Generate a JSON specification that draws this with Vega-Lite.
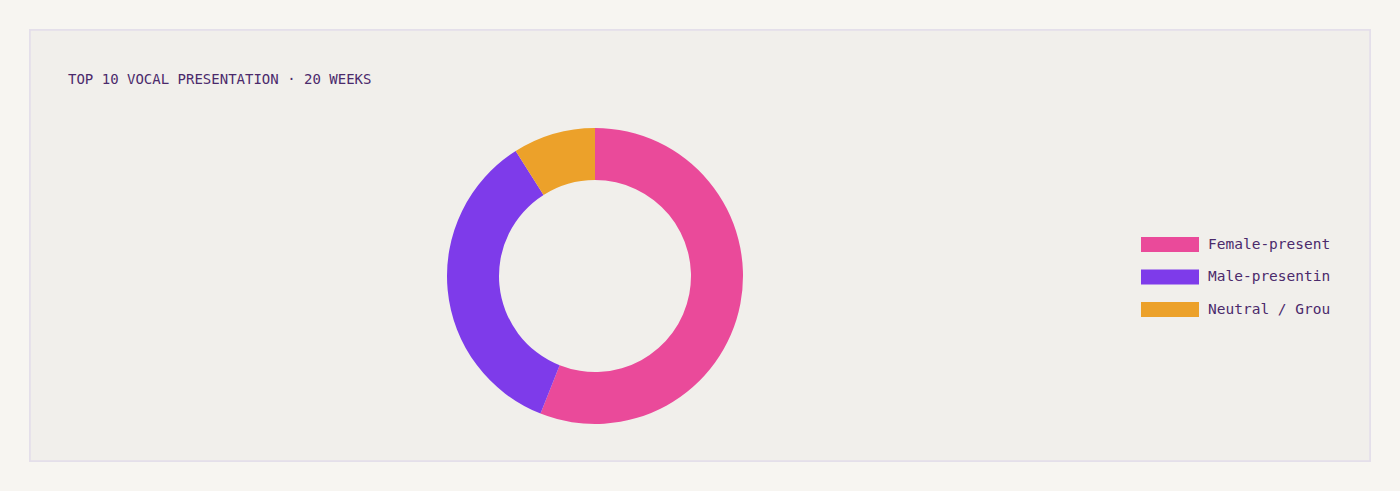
{
  "$schema": "https://vega.github.io/schema/vega-lite/v6.json",
  "autosize": "none",
  "width": 1340,
  "height": 431,
  "padding": 30,
  "background": "#f7f5f1",
  "title": {
    "text": "TOP 10 VOCAL PRESENTATION · 20 WEEKS",
    "anchor": "start",
    "frame": "group",
    "font": "DejaVu Sans Mono",
    "fontSize": 14,
    "fontWeight": "normal",
    "color": "#4b2a6b",
    "offset": 0,
    "dx": 38,
    "dy": 58
  },
  "data": {
    "values": [
      {"category": "Female-presenting", "count": 112},
      {"category": "Male-presenting", "count": 70},
      {"category": "Neutral / Group", "count": 18}
    ]
  },
  "layer": [
    {
      "mark": {"type": "rect", "fill": "#f1efeb", "stroke": "#e3deea", "strokeWidth": 1.5},
      "encoding": {}
    },
    {
      "mark": {"type": "arc", "outerRadius": 148, "innerRadius": 96, "x": 565, "y": 246},
      "encoding": {
        "theta": {"field": "count", "type": "quantitative", "stack": true},
        "order": {"field": "category", "sort": "ascending"},
        "color": {
          "field": "category",
          "type": "nominal",
          "scale": {
            "domain": ["Female-presenting", "Male-presenting", "Neutral / Group"],
            "range": ["#ea4a9a", "#7e3bea", "#eca12a"]
          },
          "legend": {
            "title": null,
            "orient": "none",
            "legendX": 1132.5,
            "legendY": 207,
            "padding": 0,
            "symbolType": "M-3.867,-1H3.867V1H-3.867Z",
            "symbolSize": 225,
            "symbolStrokeWidth": 0,
            "rowPadding": 16.5,
            "labelOffset": 30.5,
            "labelFont": "DejaVu Sans Mono",
            "labelFontSize": 14.5,
            "labelColor": "#4b2a6b",
            "labelExpr": "slice(datum.label, 0, 14)"
          }
        },
        "tooltip": [
          {"field": "category", "type": "nominal", "title": "Presentation"},
          {"field": "count", "type": "quantitative", "title": "Entries"}
        ]
      }
    }
  ]
}
